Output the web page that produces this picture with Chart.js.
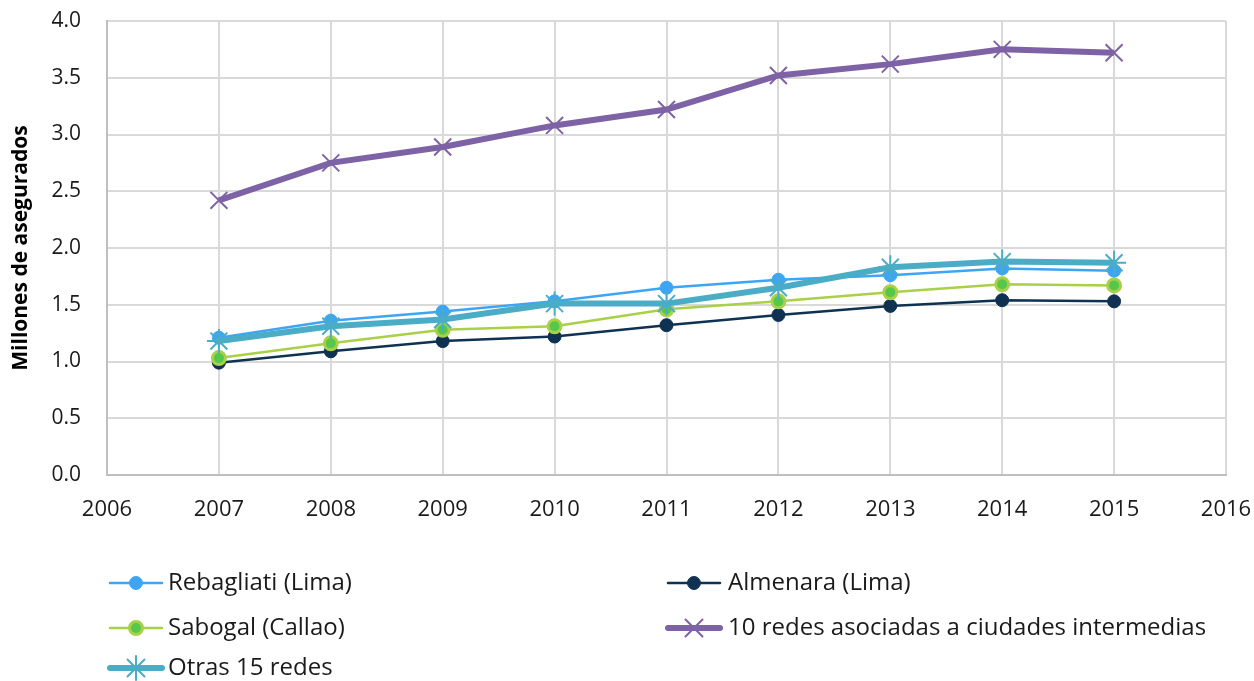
<!DOCTYPE html>
<html>
<head>
<meta charset="utf-8">
<script src="https://cdn.jsdelivr.net/npm/chart.js@4/dist/chart.umd.min.js"></script>
<style>
  html, body { margin: 0; padding: 0; background: #ffffff; }
  #wrap { width: 1254px; height: 681px; position: relative; }
</style>
</head>
<body>
<div id="wrap"><canvas id="c" width="1254" height="681"></canvas></div>
<script>
// Asegurados por red asistencial, en millones
const years = [2007, 2008, 2009, 2010, 2011, 2012, 2013, 2014, 2015];
const rebagliati = [1.21, 1.36, 1.44, 1.53, 1.65, 1.72, 1.76, 1.82, 1.80];
const almenara = [0.99, 1.09, 1.18, 1.22, 1.32, 1.41, 1.49, 1.54, 1.53];
const sabogal = [1.03, 1.16, 1.28, 1.31, 1.46, 1.53, 1.61, 1.68, 1.67];
const ciudadesIntermedias = [2.42, 2.75, 2.89, 3.08, 3.22, 3.52, 3.62, 3.75, 3.72];
const otras15 = [1.18, 1.31, 1.37, 1.51, 1.51, 1.65, 1.83, 1.88, 1.87];
const seriesNames = ['Rebagliati (Lima)', 'Almenara (Lima)', 'Sabogal (Callao)',
  '10 redes asociadas a ciudades intermedias', 'Otras 15 redes'];
const yTickValues = [0, 0.5, 1.0, 1.5, 2.0, 2.5, 3.0, 3.5, 4.0];
const xTickValues = [2006, 2007, 2008, 2009, 2010, 2011, 2012, 2013, 2014, 2015, 2016];
const yTitle = 'Millones de asegurados';

const FONT = "'Open Sans', 'Noto Sans', sans-serif";
const toPoints = arr => years.map((x, i) => ({ x: x, y: arr[i] }));

const styles = [
  { color: '#3DA5F4', width: 2.5, style: 'circle', radius: 6.5, fill: '#3DA5F4', bw: 1 },
  { color: '#0F3152', width: 2.5, style: 'circle', radius: 6.5, fill: '#0F3152', bw: 1 },
  { color: '#A9D046', width: 2.5, style: 'circle', radius: 6.5, fill: '#55C84A', bw: 3 },
  { color: '#7E62A6', width: 6, style: 'crossRot', radius: 12, fill: '#7E62A6', bw: 2 },
  { color: '#4BACC6', width: 6, style: 'star', radius: 12, fill: '#4BACC6', bw: 2 }
];
const values = [rebagliati, almenara, sabogal, ciudadesIntermedias, otras15];

const datasets = values.map((arr, i) => ({
  label: seriesNames[i],
  data: toPoints(arr),
  borderColor: styles[i].color,
  backgroundColor: styles[i].fill,
  borderWidth: styles[i].width,
  pointStyle: styles[i].style,
  pointRadius: styles[i].radius,
  pointBorderWidth: styles[i].bw,
  pointBorderColor: styles[i].color,
  pointBackgroundColor: styles[i].fill,
  tension: 0,
  order: values.length - i
}));

// Two-column legend below the plot
const legendRows = [583, 628, 668];
const legendCols = [{ x0: 110, x1: 162, tx: 168 }, { x0: 668, x1: 720, tx: 728 }];
const bottomLegend = {
  id: 'bottomLegend',
  afterDraw(chart) {
    const ctx = chart.ctx;
    chart.data.datasets.forEach((ds, i) => {
      const col = legendCols[i % 2];
      const y = legendRows[Math.floor(i / 2)];
      ctx.save();
      ctx.strokeStyle = ds.borderColor;
      ctx.lineWidth = ds.borderWidth;
      ctx.lineCap = 'round';
      ctx.beginPath();
      ctx.moveTo(col.x0, y);
      ctx.lineTo(col.x1, y);
      ctx.stroke();
      ctx.fillStyle = ds.pointBackgroundColor;
      ctx.strokeStyle = ds.pointBorderColor;
      ctx.lineWidth = ds.pointBorderWidth;
      Chart.helpers.drawPoint(ctx, {
        pointStyle: ds.pointStyle,
        radius: ds.pointRadius,
        borderWidth: ds.pointBorderWidth,
        rotation: 0
      }, (col.x0 + col.x1) / 2, y);
      ctx.fillStyle = '#1a1a1a';
      ctx.font = '24px ' + FONT;
      ctx.textBaseline = 'middle';
      ctx.textAlign = 'left';
      ctx.fillText(ds.label, col.tx, y);
      ctx.restore();
    });
  }
};

new Chart(document.getElementById('c'), {
  type: 'line',
  data: { datasets: datasets },
  options: {
    responsive: false,
    animation: false,
    layout: { padding: { left: 6, right: 28, top: 21, bottom: 156 } },
    plugins: { legend: { display: false }, tooltip: { enabled: false } },
    scales: {
      x: {
        type: 'linear',
        min: 2006, max: 2016,
        afterBuildTicks(axis) { axis.ticks = xTickValues.map(v => ({ value: v })); },
        afterFit(axis) {
          axis.height = 50;
          axis.paddingLeft = 0;
          axis.paddingRight = 0;
        },
        ticks: {
          padding: 22,
          color: '#1a1a1a',
          font: { family: FONT, size: 22 },
          callback: v => String(v)
        },
        grid: { color: '#D9D9D9', lineWidth: 2, drawTicks: false },
        border: { color: '#BFBFBF', width: 2 }
      },
      y: {
        min: 0, max: 4,
        afterBuildTicks(axis) { axis.ticks = yTickValues.map(v => ({ value: v })); },
        afterFit(axis) {
          axis.width = 101;
          axis.paddingTop = 0;
          axis.paddingBottom = 0;
        },
        ticks: {
          padding: 26,
          color: '#1a1a1a',
          font: { family: FONT, size: 21 },
          callback: v => Number(v).toFixed(1)
        },
        grid: { color: '#D9D9D9', lineWidth: 2, drawTicks: false },
        border: { color: '#BFBFBF', width: 2 },
        title: {
          display: true,
          text: yTitle,
          color: '#000000',
          font: { family: FONT, size: 21, weight: 'bold' },
          padding: { top: 2, bottom: 0 }
        }
      }
    }
  },
  plugins: [bottomLegend]
});
</script>
</body>
</html>
